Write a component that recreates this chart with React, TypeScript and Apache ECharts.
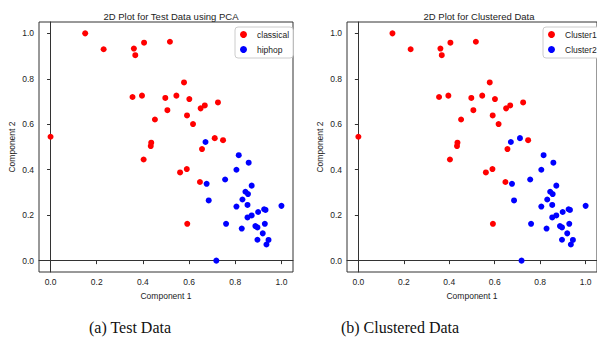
import React, { useEffect, useRef } from "react";
import * as echarts from "echarts";

// Left plot: Test Data using PCA
const classicalX = [0.150, 0.230, 0.361, 0.367, 0.405, 0.517, 0.578, 0.355, 0.396, 0.497, 0.545, 0.601, 0.506, 0.650, 0.668, 0.725, 0.452, 0.591, 0.617, 0.000, 0.711, 0.747, 0.436, 0.434, 0.403, 0.561, 0.590, 0.656, 0.647, 0.592];
const classicalY = [1.000, 0.930, 0.933, 0.904, 0.959, 0.963, 0.784, 0.720, 0.726, 0.716, 0.726, 0.711, 0.662, 0.670, 0.683, 0.696, 0.621, 0.639, 0.601, 0.545, 0.539, 0.530, 0.519, 0.504, 0.445, 0.388, 0.403, 0.491, 0.346, 0.162];
const hiphopX = [0.671, 0.815, 0.858, 0.805, 0.676, 0.756, 0.871, 0.844, 0.855, 0.685, 0.831, 0.853, 0.805, 1.000, 0.925, 0.931, 0.899, 0.871, 0.853, 0.760, 0.928, 0.887, 0.896, 0.828, 0.919, 0.896, 0.944, 0.935, 0.718];
const hiphopY = [0.522, 0.464, 0.431, 0.400, 0.338, 0.357, 0.330, 0.303, 0.293, 0.265, 0.269, 0.245, 0.238, 0.241, 0.226, 0.223, 0.214, 0.199, 0.190, 0.162, 0.162, 0.152, 0.146, 0.141, 0.120, 0.092, 0.091, 0.071, 0.000];

// Right plot: Clustered Data
const cluster1X = [0.150, 0.230, 0.361, 0.367, 0.405, 0.517, 0.578, 0.355, 0.396, 0.497, 0.545, 0.601, 0.506, 0.650, 0.668, 0.725, 0.452, 0.591, 0.617, 0.000, 0.747, 0.436, 0.434, 0.403, 0.561, 0.590, 0.656, 0.647, 0.592];
const cluster1Y = [1.000, 0.930, 0.933, 0.904, 0.959, 0.963, 0.784, 0.720, 0.726, 0.716, 0.726, 0.711, 0.662, 0.670, 0.683, 0.696, 0.621, 0.639, 0.601, 0.545, 0.530, 0.519, 0.504, 0.445, 0.388, 0.403, 0.491, 0.346, 0.162];
const cluster2X = [0.711, 0.671, 0.815, 0.858, 0.805, 0.676, 0.756, 0.871, 0.844, 0.855, 0.685, 0.831, 0.853, 0.805, 1.000, 0.925, 0.931, 0.899, 0.871, 0.853, 0.760, 0.928, 0.887, 0.896, 0.828, 0.919, 0.896, 0.944, 0.935, 0.718];
const cluster2Y = [0.539, 0.522, 0.464, 0.431, 0.400, 0.338, 0.357, 0.330, 0.303, 0.293, 0.265, 0.269, 0.245, 0.238, 0.241, 0.226, 0.223, 0.214, 0.199, 0.190, 0.162, 0.162, 0.152, 0.146, 0.141, 0.120, 0.092, 0.091, 0.071, 0.000];

const tickValues = [0, 0.2, 0.4, 0.6, 0.8, 1.0];
const titles = ["2D Plot for Test Data using PCA", "2D Plot for Clustered Data"];
const captions = ["(a) Test Data", "(b) Clustered Data"];
const xName = "Component 1";
const yName = "Component 2";

const zip = (xs: number[], ys: number[]) => xs.map((x, i) => [x, ys[i]]);

const FONT = "Liberation Sans";
const AXC = "#333";

function makeX(gridIndex: number) {
  return {
    type: "value",
    gridIndex,
    min: -0.05,
    max: 1.05,
    name: xName,
    nameLocation: "middle",
    nameGap: 19,
    nameTextStyle: { fontFamily: FONT, fontSize: 8.5, color: "#222" },
    axisLine: { show: true, lineStyle: { color: AXC, width: 1 } },
    axisTick: { show: true, length: 3.5, inside: false, customValues: tickValues, lineStyle: { color: AXC } },
    axisLabel: { customValues: tickValues, formatter: (v: number) => v.toFixed(1), fontFamily: FONT, fontSize: 8.5, color: "#222", margin: 5 },
    splitLine: { show: false },
  };
}
function makeY(gridIndex: number) {
  return {
    type: "value",
    gridIndex,
    min: -0.05,
    max: 1.05,
    name: yName,
    nameLocation: "middle",
    nameRotate: 90,
    nameGap: 23,
    nameTextStyle: { fontFamily: FONT, fontSize: 8.5, color: "#222" },
    axisLine: { show: true, lineStyle: { color: AXC, width: 1 } },
    axisTick: { show: true, length: 3.5, inside: false, customValues: tickValues, lineStyle: { color: AXC } },
    axisLabel: { customValues: tickValues, formatter: (v: number) => v.toFixed(1), fontFamily: FONT, fontSize: 8.5, color: "#222", margin: 5 },
    splitLine: { show: false },
  };
}

function makeLegend(left: number, names: string[]) {
  return {
    orient: "vertical",
    left,
    top: 27,
    data: names,
    icon: "circle",
    itemWidth: 7,
    itemHeight: 7,
    itemGap: 4,
    padding: [2, 4, 3, 5],
    borderColor: "#ccc",
    borderWidth: 1,
    borderRadius: 3,
    backgroundColor: "#fff",
    textStyle: { fontFamily: FONT, fontSize: 8.5, color: "#222", lineHeight: 11, padding: [0, 0, 0, 5] },
  };
}

function scatter(name: string, xi: number, xs: number[], ys: number[], color: string) {
  return {
    type: "scatter",
    name,
    xAxisIndex: xi,
    yAxisIndex: xi,
    data: zip(xs, ys),
    symbol: "circle",
    symbolSize: 6,
    itemStyle: { color, opacity: 1 },
  };
}

export default function App() {
  const ref = useRef<HTMLDivElement>(null);
  useEffect(() => {
    if (!ref.current) return;
    const chart = echarts.init(ref.current, null, { renderer: "svg" });
    chart.setOption({
      animation: false,
      backgroundColor: "#fff",
      title: [
        { text: titles[0], left: 166, top: 6, textAlign: "center", textStyle: { fontFamily: FONT, fontSize: 9.5, fontWeight: "normal", color: "#222" } },
        { text: titles[1], left: 474, top: 6, textAlign: "center", textStyle: { fontFamily: FONT, fontSize: 9.5, fontWeight: "normal", color: "#222" } },
      ],
      grid: [
        { left: 39, top: 22, width: 254, height: 250, show: true, borderColor: AXC, borderWidth: 1, backgroundColor: "transparent" },
        { left: 347, top: 22, width: 254, height: 250, show: true, borderColor: AXC, borderWidth: 1, backgroundColor: "transparent" },
      ],
      xAxis: [makeX(0), makeX(1)],
      yAxis: [makeY(0), makeY(1)],
      legend: [makeLegend(235, ["classical", "hiphop"]), makeLegend(543, ["Cluster1", "Cluster2"])],
      series: [
        scatter("classical", 0, classicalX, classicalY, "#ff0000"),
        scatter("hiphop", 0, hiphopX, hiphopY, "#0000ff"),
        scatter("Cluster1", 1, cluster1X, cluster1Y, "#ff0000"),
        scatter("Cluster2", 1, cluster2X, cluster2Y, "#0000ff"),
      ],
      graphic: [
        { type: "text", x: 130, y: 327, style: { text: captions[0], font: "16px 'Liberation Serif'", fill: "#111", textAlign: "center", textVerticalAlign: "middle" } },
        { type: "text", x: 400, y: 327, style: { text: captions[1], font: "16px 'Liberation Serif'", fill: "#111", textAlign: "center", textVerticalAlign: "middle" } },
      ],
    });
    return () => chart.dispose();
  }, []);
  return <div ref={ref} style={{ position: "fixed", left: 0, top: 0, width: 597, height: 341 }} />;
}
